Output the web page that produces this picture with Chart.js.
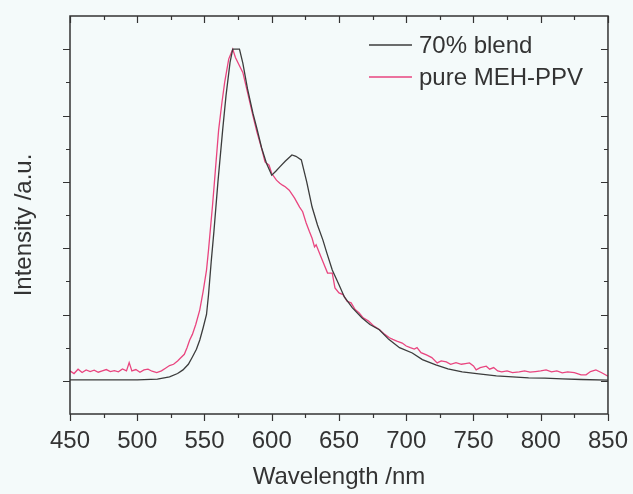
<!DOCTYPE html>
<html>
<head>
<meta charset="utf-8">
<script src="https://cdn.jsdelivr.net/npm/chart.js@4.4.1/dist/chart.umd.min.js"></script>
<style>
  html, body { margin: 0; padding: 0; background: #f4fafa; }
</style>
</head>
<body>
<canvas id="myChart" width="633" height="494"></canvas>
<script>
// Espectros (intensidade normalizada)
const seriesLabels = ["70% blend", "pure MEH-PPV"];

const blendX = [450, 480, 500, 515, 524, 530, 534, 538, 541, 544, 546.5, 549, 551.5, 553, 555, 557, 560, 563.5, 566, 569, 571, 576, 578.5, 582, 586, 589, 592.5, 596, 600, 603, 606, 610, 615, 618, 622, 626, 630, 634, 638, 641, 645, 650, 654, 660, 667, 673, 680, 687, 695, 704.5, 712, 722, 731, 741.6, 754, 767, 779, 791, 803, 816, 830, 850];
const blendY = [0.003, 0.003, 0.003, 0.005, 0.012, 0.022, 0.033, 0.05, 0.072, 0.095, 0.123, 0.16, 0.2, 0.26, 0.36, 0.45, 0.6, 0.756, 0.86, 0.96, 1.0, 1.0, 0.958, 0.88, 0.807, 0.76, 0.702, 0.657, 0.62, 0.632, 0.645, 0.662, 0.681, 0.677, 0.666, 0.6, 0.524, 0.47, 0.425, 0.385, 0.334, 0.29, 0.253, 0.22, 0.19, 0.17, 0.154, 0.125, 0.1, 0.084, 0.064, 0.048, 0.036, 0.027, 0.021, 0.015, 0.012, 0.009, 0.008, 0.006, 0.004, 0.002];

const pureX = [450, 453, 456, 459, 462, 465, 468, 471, 474, 477, 480, 483, 486, 489, 492, 494, 496, 499, 502, 505, 508, 511, 514.5, 518, 521, 524, 527, 530, 532, 535, 537, 539, 541, 543.5, 546.5, 549, 551.5, 553, 556, 558, 560.5, 563, 565, 568, 571, 573, 576, 578.5, 582, 586, 589, 592.5, 595, 598, 600, 603.5, 606, 608, 610, 613, 615.5, 617, 620.7, 623, 625.6, 628, 630, 631.8, 633, 635, 638, 641.5, 645, 647, 650, 653, 656, 659, 662, 665, 668, 672, 676, 680, 684, 687.5, 690, 693, 697, 700, 703, 706, 708, 711, 715, 719, 723, 726, 729.8, 733, 737, 741, 744, 747, 750, 752, 755, 759.5, 762, 765, 768, 771, 775, 779, 784, 788, 792, 796, 800, 804, 808, 812, 816, 820, 825, 830, 833.7, 837, 841, 845, 850];
const pureY = [0.03, 0.022, 0.035, 0.025, 0.033, 0.028, 0.032, 0.026, 0.03, 0.034, 0.028, 0.031, 0.027, 0.036, 0.03, 0.055, 0.03, 0.034, 0.026, 0.033, 0.035, 0.029, 0.025, 0.03, 0.038, 0.046, 0.05, 0.06, 0.068, 0.08, 0.1, 0.123, 0.14, 0.17, 0.214, 0.27, 0.334, 0.395, 0.53, 0.63, 0.756, 0.84, 0.9, 0.97, 1.0, 0.975, 0.95, 0.93, 0.87, 0.8, 0.75, 0.7, 0.66, 0.65, 0.625, 0.605, 0.596, 0.59, 0.585, 0.575, 0.56, 0.551, 0.524, 0.51, 0.476, 0.45, 0.43, 0.404, 0.41, 0.39, 0.36, 0.325, 0.325, 0.28, 0.265, 0.26, 0.24, 0.235, 0.215, 0.205, 0.19, 0.18, 0.165, 0.155, 0.14, 0.13, 0.125, 0.12, 0.114, 0.105, 0.1, 0.096, 0.1, 0.085, 0.078, 0.07, 0.054, 0.06, 0.057, 0.05, 0.055, 0.05, 0.052, 0.054, 0.045, 0.033, 0.04, 0.044, 0.035, 0.04, 0.03, 0.027, 0.03, 0.025, 0.027, 0.03, 0.026, 0.028, 0.03, 0.033, 0.027, 0.03, 0.024, 0.027, 0.025, 0.018, 0.018, 0.028, 0.033, 0.025, 0.014];

// Eixos
const xMin = 450, xMax = 850, xStep = 50, xMinorStep = 25;
const yMin = -0.1, yMax = 1.1, yStep = 0.1;

const FONT = "'Liberation Sans', Arial, Helvetica, sans-serif";
const TEXT = "#333333";
const colors = ["#3c3c3c", "#e9457f"];

const toPoints = (xs, ys) => xs.map((x, i) => ({ x, y: ys[i] }));

// Moldura, marcas dos eixos, legenda e título do eixo y
const framePlugin = {
    id: 'frame',
    beforeDraw(chart) {
        const ctx = chart.ctx;
        ctx.save();
        ctx.fillStyle = "#f4fafa";
        ctx.fillRect(0, 0, chart.width, chart.height);
        ctx.restore();
    },
    afterDraw(chart) {
        const { ctx, chartArea: a, scales: { x, y } } = chart;
        ctx.save();
        ctx.strokeStyle = "#333";
        ctx.lineWidth = 1.5;
        ctx.strokeRect(a.left, a.top, a.right - a.left, a.bottom - a.top);

        ctx.lineWidth = 1.2;
        ctx.beginPath();
        for (let v = xMin; v <= xMax; v += xMinorStep) {
            const len = (v - xMin) % xStep === 0 ? 7 : 4;
            const px = Math.round(x.getPixelForValue(v)) + 0.5;
            ctx.moveTo(px, a.bottom); ctx.lineTo(px, a.bottom + len); // para fora
            ctx.moveTo(px, a.top); ctx.lineTo(px, a.top + len);       // para dentro
        }
        for (let k = 0; k <= 10; k++) {
            const len = k % 2 === 0 ? 7 : 4;
            const py = Math.round(y.getPixelForValue(k * yStep)) + 0.5;
            ctx.moveTo(a.left, py); ctx.lineTo(a.left - len, py);
            ctx.moveTo(a.right, py); ctx.lineTo(a.right - len, py);
        }
        ctx.stroke();

        // legenda
        ctx.font = "24px " + FONT;
        ctx.textBaseline = "middle";
        ctx.textAlign = "left";
        chart.data.datasets.forEach((ds, i) => {
            const ly = a.top + 29 + i * 32;
            ctx.strokeStyle = ds.borderColor;
            ctx.lineWidth = 1.3;
            ctx.beginPath();
            ctx.moveTo(a.right - 239, ly);
            ctx.lineTo(a.right - 196, ly);
            ctx.stroke();
            ctx.fillStyle = TEXT;
            ctx.fillText(ds.label, a.right - 189, ly + 1);
        });

        // título do eixo y
        ctx.translate(24, (a.top + a.bottom) / 2 + 10);
        ctx.rotate(-Math.PI / 2);
        ctx.textAlign = "center";
        ctx.fillStyle = TEXT;
        ctx.fillText("Intensity /a.u.", 0, 0);
        ctx.restore();
    }
};

const config = {
    type: 'scatter',
    data: {
        datasets: [{
            label: seriesLabels[0],
            data: toPoints(blendX, blendY),
            borderColor: colors[0],
            backgroundColor: colors[0],
            showLine: true,
            borderWidth: 1.3,
            pointRadius: 0
        }, {
            label: seriesLabels[1],
            data: toPoints(pureX, pureY),
            borderColor: colors[1],
            backgroundColor: colors[1],
            showLine: true,
            borderWidth: 1.3,
            pointRadius: 0
        }]
    },
    options: {
        responsive: false,
        animation: false,
        layout: { padding: { top: 16, right: 12, left: 0, bottom: 0 } },
        plugins: { legend: { display: false }, tooltip: { enabled: false } },
        scales: {
            x: {
                type: 'linear',
                min: xMin,
                max: xMax,
                grid: { display: false },
                border: { display: false },
                ticks: {
                    stepSize: xStep,
                    padding: 5,
                    color: TEXT,
                    font: { size: 24, family: FONT }
                },
                title: {
                    display: true,
                    text: "Wavelength /nm",
                    color: TEXT,
                    font: { size: 24, family: FONT },
                    padding: { top: 0, bottom: 2 }
                },
                afterFit: (scale) => { scale.height = 80; }
            },
            y: {
                min: yMin,
                max: yMax,
                grid: { display: false },
                border: { display: false },
                ticks: { display: false, stepSize: yStep },
                afterFit: (scale) => { scale.width = 70; }
            }
        }
    },
    plugins: [framePlugin]
};

const myChart = new Chart(document.getElementById('myChart').getContext("2d"), config);
</script>
</body>
</html>
